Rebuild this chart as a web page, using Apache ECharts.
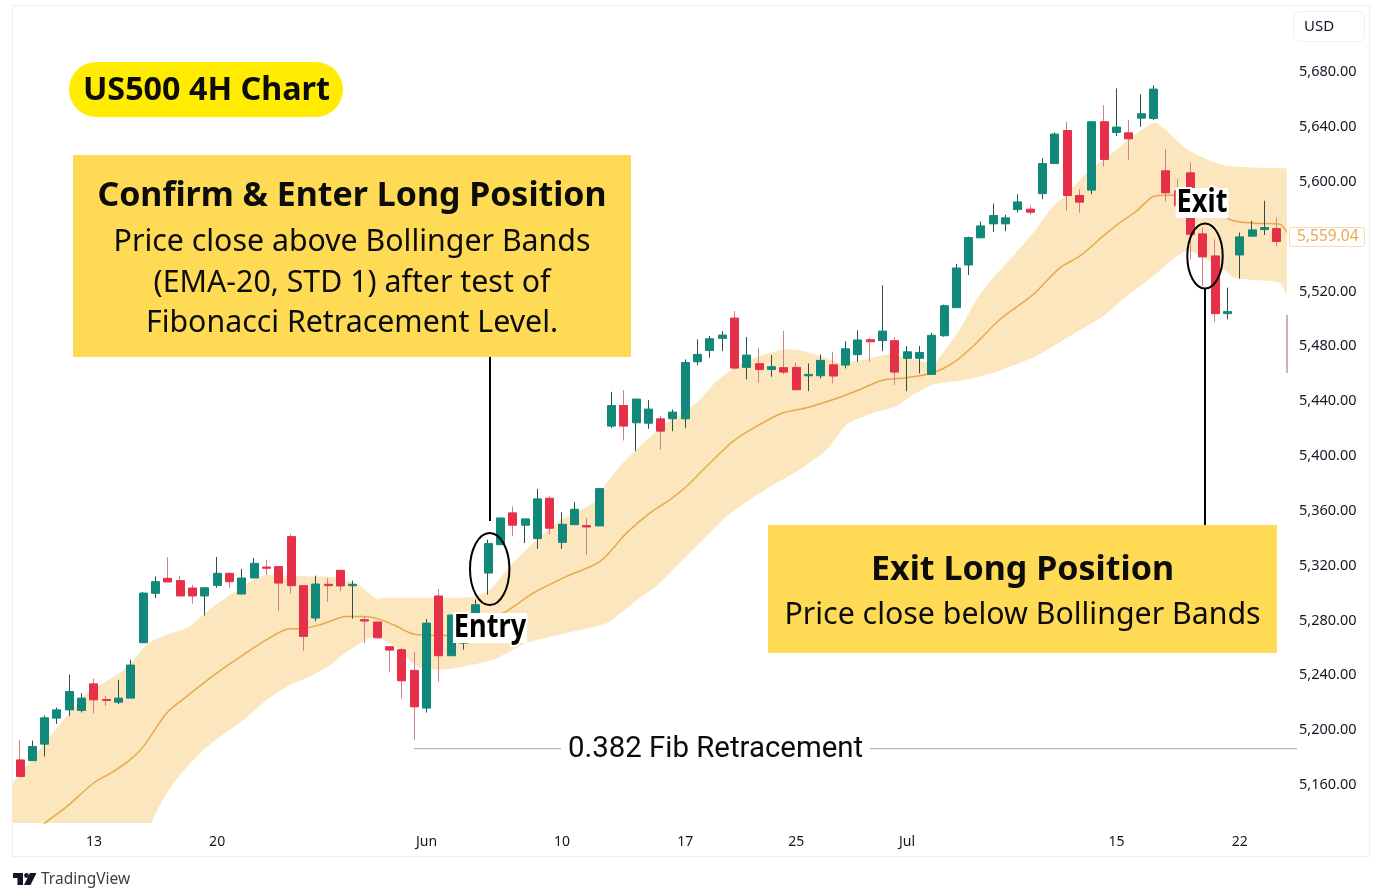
<!DOCTYPE html>
<html style="height: 100%">
<head>
    <meta charset="UTF-8">
    <script src="https://cdn.jsdelivr.net/npm/echarts@6/dist/echarts.min.js"></script>
</head>
<body style="margin: 0;background: #FFF;overflow: hidden;">
<div id="chart" style="width: 1382px;height: 894px;"></div>

<script>
    // [open, close, low, high], one row per 4H candle
    var ohlc = [
        [5176.8,5164.7,5164.7,5191.4],[5176.3,5186.6,5176.3,5190.9],[5188.3,5207.5,5179.3,5209.2],[5207.3,5213.3,5203.1,5215.0],
        [5213.3,5226.7,5209.0,5238.9],[5212.9,5221.9,5211.4,5225.5],[5232.3,5220.6,5210.9,5236.2],[5220.9,5220.2,5216.3,5223.6],
        [5218.9,5221.9,5217.5,5235.2],[5221.9,5246.0,5221.9,5249.9],[5262.3,5298.5,5262.3,5299.3],[5298.3,5306.8,5294.9,5310.7],
        [5309.3,5306.6,5306.6,5324.8],[5307.6,5296.4,5296.4,5311.2],[5302.2,5296.4,5290.8,5304.4],[5296.4,5302.4,5282.2,5302.4],
        [5304.1,5312.9,5302.4,5324.8],[5312.9,5306.8,5302.2,5313.6],[5297.8,5309.5,5297.8,5316.1],[5309.5,5320.2,5309.5,5324.1],
        [5317.5,5316.6,5311.7,5322.9],[5317.8,5305.8,5285.4,5317.8],[5339.7,5303.9,5298.1,5341.4],[5303.9,5266.9,5256.4,5303.9],
        [5280.3,5305.1,5277.9,5311.2],[5304.9,5303.9,5292.2,5309.5],[5315.1,5303.7,5299.8,5315.1],[5303.9,5304.9,5279.8,5307.6],
        [5279.1,5278.1,5262.0,5281.5],[5277.4,5265.9,5265.4,5277.4],[5259.4,5256.9,5241.1,5259.4],[5257.2,5234.5,5221.4,5258.4],
        [5242.1,5215.5,5191.4,5255.7],[5214.6,5276.6,5211.4,5279.6],[5296.4,5252.8,5233.8,5301.5],[5252.8,5282.5,5252.8,5282.5],
        [5262.0,5264.0,5257.2,5268.0],[5282.7,5290.0,5282.7,5293.7],[5313.1,5334.6,5297.3,5337.5],[5333.8,5353.3,5333.8,5353.3],
        [5357.0,5348.0,5339.9,5361.8],[5348.0,5352.6,5335.0,5352.6],[5338.2,5367.2,5330.7,5374.5],[5367.7,5345.8,5341.1,5369.1],
        [5335.5,5348.7,5330.7,5357.4],[5348.4,5359.6,5348.4,5365.0],[5347.7,5346.7,5326.5,5353.3],[5347.5,5374.7,5347.5,5374.7],
        [5420.3,5435.3,5419.0,5445.3],[5435.3,5420.3,5409.8,5446.5],[5422.7,5440.0,5402.0,5440.0],[5422.4,5432.7,5418.3,5439.2],
        [5425.6,5416.6,5403.2,5427.6],[5425.6,5430.5,5416.6,5432.4],[5425.6,5466.7,5419.0,5468.9],[5467.2,5472.6,5464.6,5483.5],
        [5475.5,5484.0,5470.2,5486.0],[5484.3,5486.7,5475.0,5489.6],[5499.1,5462.6,5461.6,5504.2],[5463.1,5472.1,5454.3,5485.3],
        [5465.8,5461.6,5451.9,5477.5],[5461.6,5463.6,5456.3,5472.1],[5462.9,5459.7,5458.0,5489.6],[5463.1,5446.8,5446.8,5466.5],
        [5457.0,5458.0,5445.8,5466.0],[5457.0,5468.2,5455.0,5472.6],[5465.0,5456.8,5451.4,5474.5],[5464.8,5476.7,5462.4,5482.3],
        [5472.4,5483.1,5467.2,5490.1],[5483.3,5481.8,5467.2,5484.8],[5482.6,5489.6,5475.0,5523.0],[5482.6,5459.7,5450.2,5485.3],
        [5469.7,5474.5,5445.8,5478.7],[5469.7,5474.0,5458.7,5478.7],[5458.0,5486.5,5458.0,5488.4],[5486.2,5508.1,5485.5,5508.9],
        [5506.7,5535.6,5506.7,5538.6],[5537.8,5557.8,5530.5,5558.5],[5557.6,5566.3,5557.6,5569.5],[5567.8,5573.9,5561.9,5582.6],
        [5567.8,5572.2,5562.4,5574.4],[5578.2,5583.8,5576.0,5589.4],[5578.5,5576.3,5574.4,5581.4],[5589.9,5611.8,5585.8,5615.7],
        [5611.8,5633.3,5611.8,5634.5],[5635.9,5588.5,5577.5,5642.3],[5588.5,5583.6,5576.0,5593.1],[5592.4,5642.3,5589.4,5642.3],
        [5642.3,5614.8,5609.7,5654.4],[5634.5,5638.4,5632.0,5666.6],[5634.2,5629.8,5614.5,5643.7],[5644.9,5648.1,5638.6,5662.2],
        [5644.7,5666.1,5643.5,5669.0],[5606.5,5590.4,5584.1,5622.3],[5592.0,5581.0,5576.0,5600.4],[5605.0,5560.2,5542.0,5612.6],
        [5560.5,5543.7,5522.5,5565.1],[5544.4,5502.3,5496.2,5556.6],[5502.3,5503.8,5498.2,5521.3],[5545.1,5558.3,5527.8,5561.4],
        [5558.8,5563.4,5558.8,5570.0],[5563.6,5565.1,5559.7,5584.6],[5564.4,5554.9,5551.2,5572.4]
    ];

    // Bollinger band edges and the EMA-20, [candle index, price]
    var bandUpper = [
        [-1,5157],[-0.6,5159.8],[1.36,5181.7],[2.44,5193.8],[3.79,5208.4],[5.14,5223.1],[6.76,5232.8],[8.66,5243.8],[10.42,5262],
        [11.9,5268.1],[13.53,5273],[15.69,5288.8],[17.31,5298.6],[18.94,5308.3],[20.02,5311.9],[22.73,5310.7],[25.43,5310.2],
        [27.46,5304.6],[28.95,5294.2],[29.46,5295.1],[34.09,5295.1],[36.66,5295.6],[38.15,5301],[39.77,5318],[41.67,5335.1],
        [43.56,5349.7],[46.54,5364.3],[47.62,5378.9],[48.7,5391],[50.32,5405.6],[52.49,5422.7],[53.84,5430],[55.19,5439.7],
        [56.55,5453.1],[58.17,5464],[60.06,5471.4],[61.96,5476.2],[63.31,5475.7],[64.94,5471.4],[66.56,5466.5],[68.72,5469],
        [70.62,5472.6],[74.13,5466.5],[74.94,5473.8],[76.3,5490.9],[77.65,5512.8],[79,5528.6],[80.62,5544.4],[82.25,5561.5],
        [83.87,5580.9],[84.69,5587],[86.58,5605.3],[88.74,5619.9],[90.37,5632],[92.1,5641.8],[93.07,5635.7],[94.7,5622.3],
        [96.32,5615],[97.94,5610.1],[100.1,5608.9],[102.82,5608.2]
    ];
    var bandLower = [
        [-1,5100],[10.2,5100],[10.69,5131],[11.9,5152.5],[12.99,5165.9],[14.61,5181.7],[16.23,5193.8],[18.13,5206],[20.02,5220.6],
        [21.92,5231.6],[23.54,5237.7],[25.43,5247.4],[25.97,5252],[26.79,5257.2],[28.41,5266],[29.46,5264.5],[30.6,5258.6],
        [32.22,5244.7],[34.09,5242.6],[35.47,5244],[38.42,5249.8],[41.13,5262],[44.37,5269.3],[47.62,5276.6],[49.78,5291.3],
        [51.95,5305.8],[53.84,5322.9],[55.74,5339.9],[57.36,5354.5],[59.25,5366.7],[61.42,5378.9],[63.31,5388.6],[65.48,5403.2],
        [67.1,5421.5],[69.26,5430],[71.16,5434.8],[72.51,5443.4],[74.13,5450.7],[76.84,5454.3],[79,5459.2],[81.17,5466.5],
        [82.52,5471.4],[85.23,5486],[87.93,5500.6],[89.83,5515.2],[92,5529.8],[94.7,5548],[97.67,5534.7],[98.49,5528.6],
        [100.1,5526.9],[102.27,5525],[102.82,5515.2]
    ];
    var emaLine = [
        [1.1,5123],[2.17,5131.8],[3.79,5142.7],[5.95,5159.8],[7.57,5168.3],[8.93,5176.8],[10.01,5186.5],[11.9,5210.9],[13.53,5223.1],
        [15.96,5240.1],[18.13,5253.5],[20.02,5264.5],[21.92,5272.5],[22.73,5272.5],[24.35,5275.4],[26.52,5281.5],[27.86,5281.5],
        [28.95,5280],[30.3,5275.4],[32.2,5268.1],[34.63,5267.6],[39.23,5284],[41.67,5298.6],[44.37,5310.7],[47.08,5321.6],
        [49.24,5342.4],[51.14,5357],[52.76,5366.7],[54.11,5376.4],[55.74,5391],[57.9,5409.3],[60.06,5421.5],[61.96,5430],
        [63.85,5433.7],[66.02,5439.7],[68.18,5447],[69.94,5453.6],[71.97,5455.6],[74.13,5459.2],[75.76,5466.5],[77.38,5478.7],
        [79.55,5498.2],[82.25,5516.4],[84.42,5535.9],[86.04,5544.4],[87.93,5559],[89.29,5568.8],[90.64,5577.2],[91.99,5587.8],
        [93.07,5588.7],[93.89,5588.7],[97.67,5573.6],[98.49,5570],[100.1,5568.3],[102.27,5567.5],[102.82,5561.5]
    ];
    var fibLine = [[31.98,5185],[103.65,5185]];
    var strayWick = [[102.84,5501.5],[102.84,5459]];

    var xTickIndex = [6,16,33,44,54,63,72,89,99];
    var xTickLabels = ['13','20','Jun','10','17','25','Jul','15','22'];
    var yTicks = [5160,5200,5240,5280,5320,5360,5400,5440,5480,5520,5560,5600,5640,5680];
    var lastPrice = '5,559.04';

    var GREEN = '#10897a', RED = '#e6304a', GREEN_WICK = '#2f4f48', RED_WICK = '#d27f8c';
    var FONT = '"Noto Sans"';

    var myChart = echarts.init(document.getElementById('chart'));

    function boxText(text, x, y, size, weight) {
        return {
            type: 'text', x: x, y: y, z: 30,
            style: {
                text: text, x: 0, y: 0, align: 'center', verticalAlign: 'middle',
                fontFamily: FONT, fontSize: size, fontWeight: weight || 'normal', fill: '#0c0c0c'
            }
        };
    }
    function haloText(text, x, y, size, sx) {
        return {
            type: 'text', x: x, y: y, z: 30, scaleX: sx,
            style: {
                text: text, x: 0, y: 0, align: 'center', verticalAlign: 'middle',
                fontFamily: FONT, fontSize: size, fontWeight: 'bold', fill: '#000',
                stroke: '#fff', lineWidth: 4,
                backgroundColor: '#fff', lineHeight: 30, padding: [0, 1]
            }
        };
    }
    function ring(cx, cy, rx, ry) {
        return {
            type: 'ellipse', z: 29, shape: {cx: cx, cy: cy, rx: rx, ry: ry},
            style: {fill: null, stroke: '#000', lineWidth: 2}
        };
    }
    function stem(x, y1, y2) {
        return {
            type: 'line', z: 28, shape: {x1: x, y1: y1, x2: x, y2: y2},
            style: {stroke: '#000', lineWidth: 2}
        };
    }

    var option = {
        animation: false,
        backgroundColor: '#fff',
        grid: {left: 12, right: 85, top: 6, bottom: 71},
        xAxis: {
            type: 'value', min: -0.65, max: 103.65,
            splitLine: {show: false}, axisLine: {show: false}, axisTick: {show: false},
            axisLabel: {
                customValues: xTickIndex, margin: 12, color: '#131722',
                fontFamily: FONT, fontSize: 14,
                formatter: function (v) { return xTickLabels[xTickIndex.indexOf(v)]; }
            }
        },
        yAxis: {
            type: 'value', position: 'right', min: 5130.8, max: 5726.7, scale: true,
            splitLine: {show: false}, axisLine: {show: false}, axisTick: {show: false},
            axisLabel: {
                customValues: yTicks, margin: 2, color: '#131722',
                fontFamily: FONT, fontSize: 14.5, verticalAlign: 'top', lineHeight: 4,
                formatter: function (v) { return v.toLocaleString('en-US') + '.00'; }
            }
        },
        series: [
            {
                // the band, drawn once as one closed shape
                type: 'custom', z: 1, clip: true, silent: true,
                data: bandUpper,
                encode: {x: 0, y: 1},
                renderItem: function (params, api) {
                    if (params.dataIndex > 0) return null;
                    // end points doubled so the smoothing keeps the right edge straight
                    var upperEnd = bandUpper[bandUpper.length - 1];
                    var lowerEnd = bandLower[bandLower.length - 1];
                    var outline = bandUpper.concat([upperEnd, lowerEnd], bandLower.slice().reverse());
                    return {
                        type: 'polygon',
                        shape: {points: outline.map(function (p) { return api.coord(p); }), smooth: 0.2},
                        style: {fill: '#fbe6bd'}
                    };
                }
            },
            {
                type: 'line', z: 2, data: emaLine, symbol: 'none', silent: true, smooth: 0.3,
                lineStyle: {color: '#e8a94e', width: 1.5}
            },
            {
                type: 'line', z: 2, data: fibLine, symbol: 'none', clip: false, silent: true,
                lineStyle: {color: '#a3a3a3', width: 1}
            },
            {
                type: 'line', z: 3, data: strayWick, symbol: 'none', silent: true,
                lineStyle: {color: '#bf5566', width: 1}
            },
            {
                // wicks only
                type: 'candlestick', z: 3, barWidth: 1, silent: true,
                encode: {x: 0, y: [1, 2, 3, 4]},
                itemStyle: {color: GREEN_WICK, color0: RED_WICK, borderColor: GREEN_WICK, borderColor0: RED_WICK, borderWidth: 1},
                data: ohlc.map(function (d, i) { return [i, d[0], d[1], d[2], d[3]]; })
            },
            {
                // bodies only
                type: 'candlestick', z: 4, barWidth: 8.5, silent: true,
                encode: {x: 0, y: [1, 2, 3, 4]},
                itemStyle: {color: GREEN, color0: RED, borderColor: GREEN, borderColor0: RED, borderWidth: 1},
                data: ohlc.map(function (d, i) {
                    return [i, d[0], d[1], Math.min(d[0], d[1]), Math.max(d[0], d[1])];
                })
            }
        ],
        graphic: {
            elements: [
                // frame of the chart
                {type: 'rect', z: 0, shape: {x: 12.5, y: 5.5, width: 1357, height: 851}, style: {fill: null, stroke: '#eceef1', lineWidth: 1}},
                {type: 'rect', z: 20, shape: {x: 1293.5, y: 11.5, width: 71, height: 30, r: 6}, style: {fill: '#fff', stroke: '#eff0f2', lineWidth: 1}},
                {type: 'text', x: 1304, y: 26.5, z: 21, style: {text: 'USD', verticalAlign: 'middle', fontFamily: FONT, fontSize: 15, fill: '#131722'}},

                // last price tag
                {type: 'rect', z: 20, shape: {x: 1289.5, y: 227.5, width: 75, height: 19, r: 2}, style: {fill: '#fff', stroke: '#f6dcae', lineWidth: 1}},
                {type: 'text', x: 1297, y: 237, z: 21, style: {text: lastPrice, verticalAlign: 'middle', fontFamily: FONT, fontSize: 15.5, fill: '#e8a94e'}},

                // title pill
                {type: 'rect', z: 25, shape: {x: 69, y: 62, width: 274, height: 55, r: 27.5}, style: {fill: '#ffec00'}},
                boxText('US500 4H Chart', 206.5, 91, 32.3, 'bold'),

                // entry callout
                {type: 'rect', z: 25, shape: {x: 73, y: 155, width: 558, height: 202}, style: {fill: '#ffda55'}},
                boxText('Confirm & Enter Long Position', 352, 196.5, 33.9, 'bold'),
                boxText('Price close above Bollinger Bands', 352, 242, 30.3),
                boxText('(EMA-20, STD 1) after test of', 352, 283, 30.3),
                boxText('Fibonacci Retracement Level.', 352, 323, 30.3),
                stem(490, 357, 521),
                ring(489.7, 569, 19.7, 36),
                haloText('Entry', 490, 628, 32, 0.85),

                // exit callout
                {type: 'rect', z: 25, shape: {x: 768, y: 525, width: 509, height: 128}, style: {fill: '#ffda55'}},
                boxText('Exit Long Position', 1022.5, 570, 34, 'bold'),
                boxText('Price close below Bollinger Bands', 1022.5, 615, 30.3),
                stem(1205, 288, 525),
                ring(1205, 256, 17.7, 32.5),
                haloText('Exit', 1202, 203, 32, 0.85),

                // fib label
                {
                    type: 'text', x: 715.5, y: 749.5, z: 26, scaleX: 0.98,
                    style: {
                        text: '0.382 Fib Retracement', x: 0, y: 0, align: 'center', verticalAlign: 'middle',
                        fontFamily: 'Roboto', fontSize: 30, fill: '#0c0c0c',
                        backgroundColor: '#fff', padding: [2, 7]
                    }
                },

                // TradingView mark
                {type: 'polygon', z: 20, shape: {points: [[13, 873], [23, 873], [23, 885], [17.5, 885], [17.5, 878], [13, 878]]}, style: {fill: '#131722'}},
                {type: 'circle', z: 20, shape: {cx: 26.5, cy: 875.5, r: 2.4}, style: {fill: '#131722'}},
                {type: 'polygon', z: 20, shape: {points: [[30, 873], [36.5, 873], [30.5, 885], [24, 885]]}, style: {fill: '#131722'}},
                {type: 'text', x: 41, y: 879.5, z: 20, style: {text: 'TradingView', verticalAlign: 'middle', fontFamily: FONT, fontSize: 15.5, fill: '#3a3e4a'}}
            ]
        }
    };

    myChart.setOption(option, true);
</script>
</body>

</html>
